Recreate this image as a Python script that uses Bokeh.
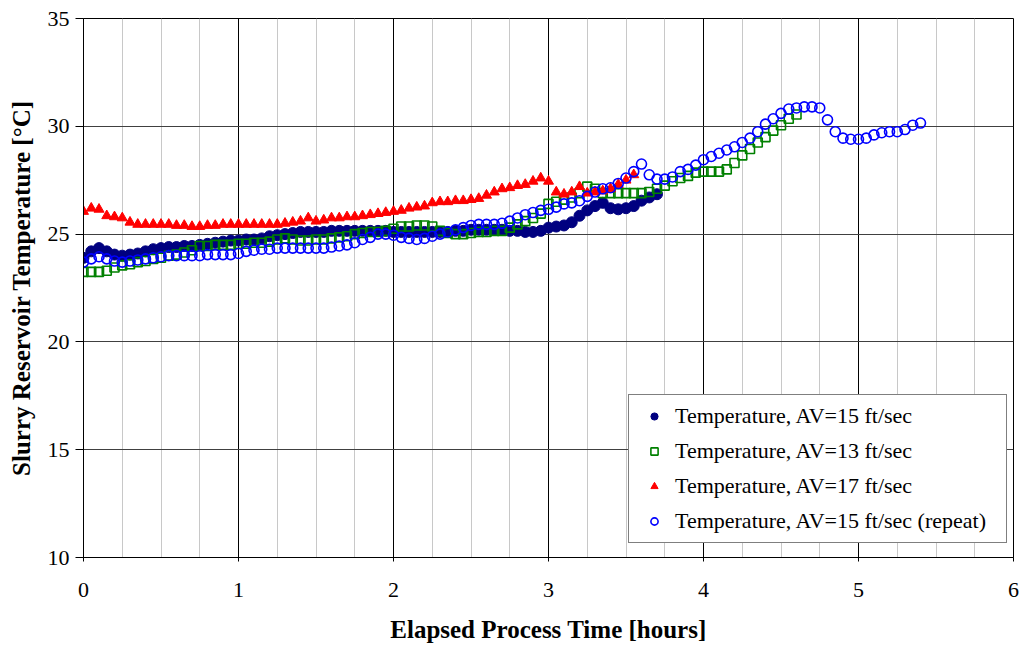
from bokeh.plotting import figure
from bokeh.models import FixedTicker, Range1d
from bokeh.embed import file_html
from bokeh.resources import INLINE

# sample times [hours], every 0.05 h
time_h = [0.00, 0.05, 0.10, 0.15, 0.20, 0.25, 0.30, 0.35, 0.40, 0.45,
          0.50, 0.55, 0.60, 0.65, 0.70, 0.75, 0.80, 0.85, 0.90, 0.95,
          1.00, 1.05, 1.10, 1.15, 1.20, 1.25, 1.30, 1.35, 1.40, 1.45,
          1.50, 1.55, 1.60, 1.65, 1.70, 1.75, 1.80, 1.85, 1.90, 1.95,
          2.00, 2.05, 2.10, 2.15, 2.20, 2.25, 2.30, 2.35, 2.40, 2.45,
          2.50, 2.55, 2.60, 2.65, 2.70, 2.75, 2.80, 2.85, 2.90, 2.95,
          3.00, 3.05, 3.10, 3.15, 3.20, 3.25, 3.30, 3.35, 3.40, 3.45,
          3.50, 3.55, 3.60, 3.65, 3.70, 3.75, 3.80, 3.85, 3.90, 3.95,
          4.00, 4.05, 4.10, 4.15, 4.20, 4.25, 4.30, 4.35, 4.40, 4.45,
          4.50, 4.55, 4.60, 4.65, 4.70, 4.75, 4.80, 4.85, 4.90, 4.95,
          5.00, 5.05, 5.10, 5.15, 5.20, 5.25, 5.30, 5.35, 5.40]

# Temperature, AV=15 ft/sec (0 - 3.70 h)
temp_av15 = [23.9, 24.2, 24.35, 24.2, 24.05, 24.0, 24.05, 24.1, 24.2, 24.3,
             24.35, 24.4, 24.4, 24.45, 24.45, 24.5, 24.55, 24.6, 24.65, 24.7,
             24.7, 24.75, 24.75, 24.8, 24.9, 24.95, 25.0, 25.05, 25.1, 25.1,
             25.1, 25.1, 25.15, 25.15, 25.15, 25.15, 25.15, 25.15, 25.15, 25.15,
             25.1, 25.1, 25.1, 25.1, 25.1, 25.1, 25.1, 25.1, 25.15, 25.15,
             25.2, 25.2, 25.2, 25.2, 25.2, 25.15, 25.15, 25.1, 25.1, 25.15,
             25.3, 25.35, 25.4, 25.55, 25.85, 26.1, 26.3, 26.45, 26.2, 26.15,
             26.2, 26.3, 26.55, 26.7, 26.85]

# Temperature, AV=13 ft/sec (0 - 4.60 h)
temp_av13 = [23.25, 23.25, 23.25, 23.3, 23.45, 23.55, 23.6, 23.7, 23.75, 23.85,
             23.9, 24.0, 24.05, 24.15, 24.25, 24.45, 24.45, 24.5, 24.5, 24.5,
             24.55, 24.55, 24.6, 24.6, 24.65, 24.75, 24.8, 24.75, 24.7, 24.7,
             24.75, 24.75, 24.8, 24.85, 24.9, 25.0, 25.05, 25.1, 25.1, 25.15,
             25.25, 25.35, 25.35, 25.4, 25.4, 25.35, 25.15, 25.05, 25.0, 25.0,
             25.05, 25.1, 25.1, 25.15, 25.15, 25.3, 25.45, 25.6, 25.75, 25.95,
             26.4, 26.5, 26.6, 26.7, 26.9, 27.2, 27.1, 26.9, 26.9, 26.9,
             26.9, 26.9, 26.9, 26.95, 27.1, 27.25, 27.45, 27.6, 27.7, 27.85,
             27.9, 27.9, 27.9, 28.0, 28.3, 28.65, 28.95, 29.25, 29.5, 29.8,
             30.05, 30.35, 30.55]

# Temperature, AV=17 ft/sec (0 - 3.55 h)
temp_av17 = [26.05, 26.2, 26.15, 25.85, 25.8, 25.75, 25.55, 25.45, 25.45, 25.45,
             25.45, 25.45, 25.4, 25.4, 25.35, 25.35, 25.4, 25.4, 25.45, 25.45,
             25.45, 25.45, 25.45, 25.45, 25.45, 25.45, 25.5, 25.55, 25.6, 25.75,
             25.6, 25.65, 25.75, 25.75, 25.8, 25.8, 25.85, 25.9, 25.95, 26.0,
             26.05, 26.1, 26.2, 26.25, 26.3, 26.45, 26.5, 26.5, 26.55, 26.55,
             26.6, 26.65, 26.8, 26.95, 27.1, 27.15, 27.25, 27.3, 27.45, 27.6,
             27.45, 26.95, 26.85, 26.95, 27.2, 26.9, 26.95, 27.0, 27.1, 27.3,
             27.5, 27.75]

# Temperature, AV=15 ft/sec (repeat) (0 - 5.40 h)
temp_av15_rep = [23.7, 23.85, 23.95, 23.85, 23.75, 23.7, 23.75, 23.8, 23.85, 23.9,
                 23.95, 24.0, 24.0, 24.0, 24.0, 24.0, 24.05, 24.05, 24.05, 24.05,
                 24.1, 24.2, 24.25, 24.3, 24.3, 24.35, 24.35, 24.35, 24.35, 24.35,
                 24.35, 24.35, 24.4, 24.45, 24.5, 24.6, 24.75, 24.85, 25.0, 25.0,
                 24.95, 24.85, 24.8, 24.75, 24.8, 24.9, 25.0, 25.1, 25.2, 25.3,
                 25.4, 25.45, 25.45, 25.45, 25.5, 25.6, 25.75, 25.9, 26.0, 26.1,
                 26.15, 26.25, 26.4, 26.45, 26.55, 26.75, 26.95, 27.1, 27.15, 27.35,
                 27.6, 27.9, 28.25, 27.75, 27.55, 27.55, 27.65, 27.9, 28.0, 28.2,
                 28.45, 28.6, 28.75, 28.9, 29.05, 29.25, 29.45, 29.75, 30.1, 30.35,
                 30.6, 30.8, 30.85, 30.9, 30.9, 30.85, 30.3, 29.75, 29.45, 29.4,
                 29.4, 29.45, 29.6, 29.7, 29.75, 29.75, 29.85, 30.05, 30.15]

x_ticks = [0, 1, 2, 3, 4, 5, 6]
y_ticks = [10, 15, 20, 25, 30, 35]
x_minor = [0.25, 0.5, 0.75, 1.25, 1.5, 1.75, 2.25, 2.5, 2.75, 3.25, 3.5, 3.75,
           4.25, 4.5, 4.75, 5.25, 5.5, 5.75]

FONT = "Liberation Serif"

p = figure(width=1023, height=645, output_backend="svg", toolbar_location=None,
           x_range=Range1d(0, 6), y_range=Range1d(10, 35),
           min_border_left=83, min_border_right=10, min_border_top=18,
           min_border_bottom=87, background_fill_color="white",
           border_fill_color="white")

p.outline_line_color = "#000000"
p.outline_line_width = 1

# axes
p.xaxis.ticker = FixedTicker(ticks=x_ticks, minor_ticks=x_minor)
p.yaxis.ticker = FixedTicker(ticks=y_ticks)
for ax in (p.xaxis[0], p.yaxis[0]):
    ax.axis_line_color = "#000000"
    ax.axis_line_width = 1
    ax.major_tick_line_color = "#000000"
    ax.minor_tick_line_color = None
    ax.major_tick_in = 0
    ax.major_label_text_font = FONT
    ax.major_label_text_font_size = "22px"
    ax.major_label_text_color = "#000000"
    ax.axis_label_text_font = FONT
    ax.axis_label_text_font_size = "25px"
    ax.axis_label_text_font_style = "bold"
    ax.axis_label_text_color = "#000000"

p.xaxis.major_tick_out = 4
p.xaxis.major_label_standoff = 21
p.xaxis.axis_label = "Elapsed Process Time [hours]"
p.xaxis.axis_label_standoff = 16
p.yaxis.major_tick_out = 8
p.yaxis.major_label_standoff = 6
p.yaxis.axis_label = "Slurry Reservoir Temperature [\u00b0C]"
p.yaxis.axis_label_standoff = 10

# grids
p.xgrid.grid_line_color = "#000000"
p.xgrid.grid_line_width = 1
p.xgrid.minor_grid_line_color = "#c8c8c8"
p.xgrid.minor_grid_line_width = 1
p.ygrid.grid_line_color = "#404040"
p.ygrid.grid_line_width = 1

# series (drawn in legend order: later on top)
p.scatter(time_h[:len(temp_av15)], temp_av15, marker="circle", size=11,
          fill_color="#000080", line_color="#000080",
          legend_label="Temperature, AV=15 ft/sec")
p.scatter(time_h[:len(temp_av13)], temp_av13, marker="square", size=9,
          fill_color=None, line_color="#008000", line_width=1.6,
          legend_label="Temperature, AV=13 ft/sec")
p.scatter(time_h[:len(temp_av17)], temp_av17, marker="triangle", size=10,
          fill_color="#ff0000", line_color="#ff0000",
          legend_label="Temperature, AV=17 ft/sec")
p.scatter(time_h[:len(temp_av15_rep)], temp_av15_rep, marker="circle", size=10,
          fill_color=None, line_color="#0000ff", line_width=1.6,
          legend_label="Temperature, AV=15 ft/sec (repeat)")

lg = p.legend[0]
lg.location = (545, 14)
lg.border_line_color = "#000000"
lg.border_line_width = 1
lg.background_fill_color = "white"
lg.background_fill_alpha = 1
lg.label_text_font = FONT
lg.label_text_font_size = "22px"
lg.label_text_color = "#000000"
lg.glyph_height = 18
lg.glyph_width = 34
lg.spacing = 9
lg.padding = 8
lg.margin = 0
lg.label_standoff = 4
lg.label_height = 18
lg.label_width = 323

open("out.html", "w").write(file_html(p, INLINE))
